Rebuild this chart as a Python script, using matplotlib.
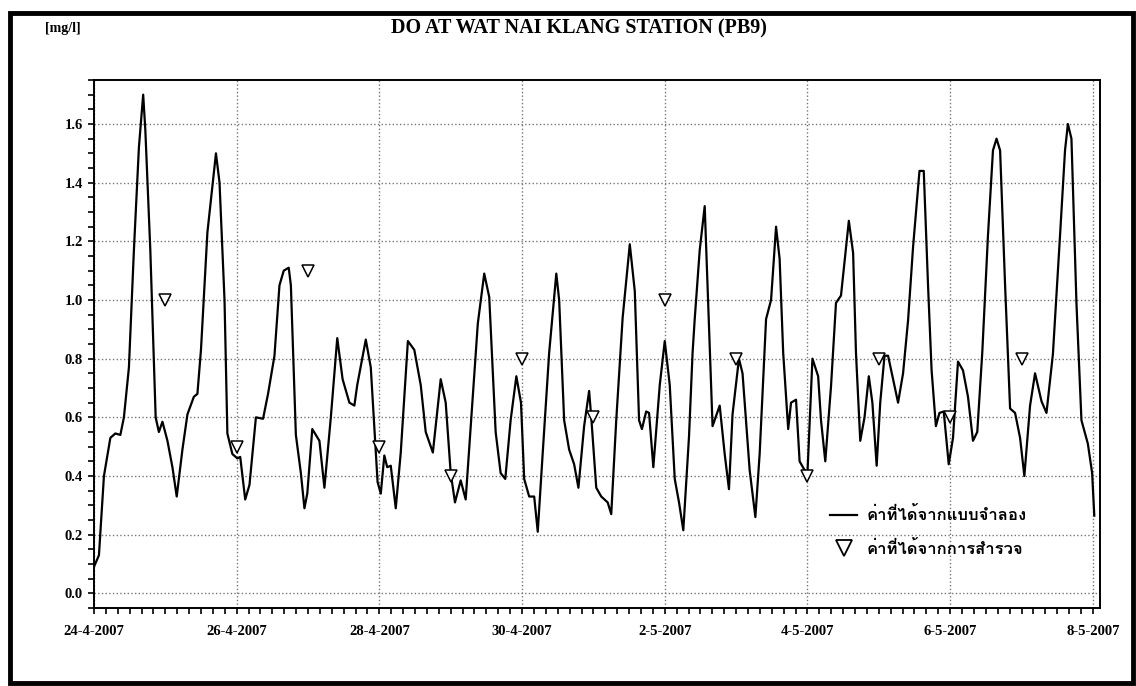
import matplotlib
matplotlib.use('Agg')
import matplotlib.pyplot as plt
from matplotlib import font_manager, ft2font
from matplotlib.lines import Line2D
from matplotlib.patches import Rectangle
from matplotlib.ticker import MultipleLocator, FixedLocator, FuncFormatter

# simulated DO (days after 24-4-2007 00:00, mg/l)
model_days = [0.00, 0.07, 0.14, 0.23, 0.30, 0.37, 0.42, 0.49, 0.56, 0.63, 0.69, 0.72, 0.79, 0.865, 0.91,
              0.96, 1.03, 1.10, 1.16, 1.24, 1.31, 1.40, 1.45, 1.50, 1.59, 1.71, 1.76, 1.83, 1.87, 1.94,
              2.01, 2.05, 2.12, 2.18, 2.27, 2.37, 2.44, 2.53, 2.60, 2.66, 2.73, 2.76, 2.83, 2.90, 2.95,
              2.99, 3.06, 3.16, 3.23, 3.32, 3.41, 3.485, 3.58, 3.65, 3.69, 3.81, 3.88, 3.95, 3.975, 4.02,
              4.07, 4.11, 4.16, 4.23, 4.30, 4.40, 4.49, 4.58, 4.65, 4.75, 4.86, 4.93, 5.00, 5.06, 5.14,
              5.21, 5.29, 5.38, 5.47, 5.54, 5.63, 5.70, 5.765, 5.84, 5.92, 5.985, 6.03, 6.10, 6.17, 6.22,
              6.29, 6.38, 6.48, 6.52, 6.59, 6.66, 6.73, 6.79, 6.87, 6.94, 6.97, 7.04, 7.11, 7.20, 7.25,
              7.32, 7.41, 7.51, 7.58, 7.64, 7.68, 7.74, 7.78, 7.84, 7.93, 8.00, 8.07, 8.14, 8.20, 8.26,
              8.34, 8.39, 8.42, 8.49, 8.56, 8.60, 8.67, 8.77, 8.84, 8.90, 8.95, 9.04, 9.09, 9.19, 9.27,
              9.33, 9.42, 9.49, 9.56, 9.61, 9.66, 9.73, 9.77, 9.84, 9.89, 9.96, 10.00, 10.07, 10.15, 10.19,
              10.25, 10.33, 10.40, 10.47, 10.58, 10.64, 10.68, 10.74, 10.80, 10.86, 10.91, 10.97, 11.02, 11.08, 11.13,
              11.20, 11.27, 11.34, 11.41, 11.48, 11.57, 11.63, 11.69, 11.74, 11.80, 11.85, 11.91, 11.98, 12.04, 12.11,
              12.18, 12.25, 12.32, 12.38, 12.45, 12.53, 12.60, 12.65, 12.70, 12.77, 12.84, 12.91, 12.98, 13.04, 13.12,
              13.19, 13.28, 13.35, 13.44, 13.54, 13.61, 13.65, 13.70, 13.77, 13.84, 13.93, 13.99, 14.02]
model_do = [0.09, 0.13, 0.40, 0.53, 0.545, 0.54, 0.60, 0.77, 1.17, 1.52, 1.70, 1.58, 1.17, 0.60, 0.55,
            0.585, 0.52, 0.43, 0.33, 0.49, 0.61, 0.67, 0.68, 0.83, 1.23, 1.50, 1.40, 1.00, 0.545, 0.475,
            0.46, 0.465, 0.32, 0.37, 0.60, 0.595, 0.68, 0.81, 1.05, 1.10, 1.11, 1.05, 0.54, 0.41, 0.29,
            0.34, 0.56, 0.52, 0.36, 0.60, 0.87, 0.73, 0.65, 0.64, 0.71, 0.865, 0.77, 0.48, 0.38, 0.34,
            0.47, 0.43, 0.435, 0.29, 0.48, 0.86, 0.83, 0.71, 0.55, 0.48, 0.73, 0.65, 0.41, 0.31, 0.385,
            0.32, 0.60, 0.92, 1.09, 1.01, 0.55, 0.41, 0.39, 0.59, 0.74, 0.65, 0.39, 0.33, 0.33, 0.21,
            0.48, 0.82, 1.09, 1.00, 0.59, 0.49, 0.44, 0.36, 0.57, 0.69, 0.60, 0.36, 0.33, 0.31, 0.27,
            0.59, 0.94, 1.19, 1.03, 0.59, 0.56, 0.62, 0.615, 0.43, 0.71, 0.86, 0.71, 0.39, 0.31, 0.215,
            0.535, 0.82, 0.935, 1.17, 1.32, 1.05, 0.57, 0.64, 0.475, 0.355, 0.61, 0.80, 0.75, 0.42, 0.26,
            0.475, 0.935, 1.00, 1.25, 1.14, 0.82, 0.56, 0.65, 0.66, 0.45, 0.42, 0.41, 0.80, 0.74, 0.59,
            0.45, 0.705, 0.99, 1.015, 1.27, 1.16, 0.82, 0.52, 0.60, 0.74, 0.65, 0.435, 0.65, 0.81, 0.81,
            0.73, 0.65, 0.75, 0.93, 1.18, 1.44, 1.44, 1.05, 0.76, 0.57, 0.615, 0.62, 0.44, 0.53, 0.79,
            0.76, 0.67, 0.52, 0.55, 0.82, 1.22, 1.51, 1.55, 1.51, 1.05, 0.63, 0.615, 0.53, 0.40, 0.64,
            0.75, 0.655, 0.615, 0.815, 1.22, 1.51, 1.60, 1.55, 0.99, 0.59, 0.51, 0.41, 0.265]

# survey values
obs_days = [1, 2, 3, 4, 5, 6, 7, 8, 9, 10, 11, 12, 13]
obs_do = [1.0, 0.5, 1.1, 0.5, 0.4, 0.8, 0.6, 1.0, 0.8, 0.4, 0.8, 0.6, 0.8]

tick_days = [0, 2, 4, 6, 8, 10, 12, 14]
date_labels = ['24-4-2007', '26-4-2007', '28-4-2007', '30-4-2007',
               '2-5-2007', '4-5-2007', '6-5-2007', '8-5-2007']
legend_labels = ['ค่าที่ได้จากแบบจำลอง', 'ค่าที่ได้จากการสำรวจ']


def thai_font():
    """first installed font that has thai glyphs"""
    for f in font_manager.fontManager.ttflist:
        try:
            cmap = ft2font.FT2Font(f.fname).get_charmap()
        except Exception:
            continue
        if 0x0E04 in cmap and 0x0E08 in cmap:
            return f.name
    return 'DejaVu Sans'


serif = 'Liberation Serif'

fig = plt.figure(figsize=(11.36, 6.86), dpi=100)
ax = fig.add_axes([0.0827, 0.1137, 0.8856, 0.7697])

ax.plot(model_days, model_do, color='k', lw=1.6, zorder=3)
ax.plot(obs_days, obs_do, ls='none', marker='v', ms=8, mfc='white', mec='k', mew=1.1, zorder=4)

ax.set_xlim(0, 14.1)
ax.set_ylim(-0.05, 1.75)
ax.xaxis.set_major_locator(FixedLocator(tick_days))
ax.xaxis.set_major_formatter(FuncFormatter(lambda v, p: date_labels[tick_days.index(int(round(v)))]))
ax.xaxis.set_minor_locator(MultipleLocator(1 / 6))
ax.yaxis.set_major_locator(MultipleLocator(0.2))
ax.yaxis.set_minor_locator(MultipleLocator(0.05))
ax.yaxis.set_major_formatter(FuncFormatter(lambda v, p: '%.1f' % (0.0 if abs(v) < 1e-9 else v)))

ax.grid(True, which='major', color='#777777', ls=':', lw=1.0)
ax.tick_params(which='both', direction='out', color='k', width=1.2, length=4)
ax.tick_params(axis='x', pad=8)
ax.tick_params(axis='y', pad=4)
for lab in ax.get_xticklabels() + ax.get_yticklabels():
    lab.set_fontfamily(serif)
    lab.set_fontweight('bold')
    lab.set_fontsize(10.5)
for s in ax.spines.values():
    s.set_linewidth(1.4)

# legend
handles = [Line2D([], [], color='k', lw=1.6),
           Line2D([], [], ls='none', marker='v', ms=12, mfc='white', mec='k', mew=1.3)]
ax.legend(handles, legend_labels, loc='lower left', bbox_to_anchor=(0.717, 0.068),
          frameon=False, handlelength=1.6, handletextpad=0.6, labelspacing=1.0,
          prop={'family': [thai_font(), 'DejaVu Sans'], 'weight': 'bold', 'size': 12})

fig.text(0.51, 0.958, 'DO AT WAT NAI KLANG STATION (PB9)', ha='center', va='center',
         family=serif, fontweight='bold', fontsize=14.5)
fig.text(0.040, 0.958, '[mg/l]', ha='left', va='center', family=serif, fontweight='bold', fontsize=10)

# outer frame of the figure
fig.patches.append(Rectangle((0.0088, 0.0044), 0.9886, 0.9767, transform=fig.transFigure,
                             fill=False, ec='k', lw=3.5))

fig.savefig('out.png', dpi=100)
